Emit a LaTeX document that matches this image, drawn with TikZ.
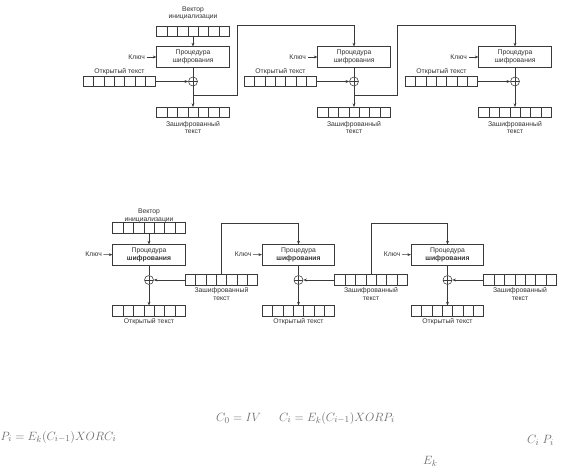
\documentclass[tikz,border=0pt]{standalone}
\usepackage{fontspec}
\newfontfamily\arialf{Liberation Sans}
\usetikzlibrary{calc,arrows.meta}
\definecolor{ln}{HTML}{3A3A3A}
\definecolor{tx}{HTML}{333333}
\definecolor{fm}{HTML}{6E6E6E}
\tikzset{
 every node/.style={font=\arialf\fontsize{6.8}{7.6}\selectfont, text=tx},
 reg/.style={draw=ln, line width=0.55pt, minimum width=72.5pt, minimum height=10.5pt, inner sep=0pt},
 proc/.style={draw=ln, line width=0.6pt, minimum width=72.5pt, minimum height=20.5pt, inner sep=0pt, align=center, font=\arialf\fontsize{6.8}{8}\selectfont},
 xorc/.style={circle, draw=ln, line width=0.55pt, minimum size=9pt, inner sep=0pt,
   path picture={\draw[ln, line width=0.5pt] (path picture bounding box.north)--(path picture bounding box.south) (path picture bounding box.west)--(path picture bounding box.east);}},
 conn/.style={draw=ln, line width=0.55pt},
 arr/.style={conn, -{Stealth[length=3.6pt,width=2.8pt]}},
 lbl/.style={inner sep=0pt, align=center},
 fml/.style={font=\fontsize{12.3}{14}\selectfont, text=fm, inner sep=0pt, anchor=west},
}
\newcommand\cells[1]{\foreach \q in {1,...,6}{\draw[conn] ($(#1.north west)!\q/7!(#1.north east)$) -- ($(#1.south west)!\q/7!(#1.south east)$);}}
\begin{document}
\begin{tikzpicture}[x=1pt,y=-1pt]
\useasboundingbox[fill=white] (0,0) rectangle (571,471);
% ---------- top (encryption) ----------
\node[reg] (tiv) at (193,31.5) {}; \cells{tiv}
\node[lbl] (tivl) at (193,13.5) {Вектор\\инициализации};
\foreach \b/\cx in {1/193,2/354,3/515}{
 \node[proc] (tp\b) at (\cx,57) {Процедура\\шифрования};
 \node[reg] (tpl\b) at (\cx-73.5,81.5) {}; \cells{tpl\b}
 \node[xorc] (tx\b) at (\cx,81.5) {};
 \node[reg] (tc\b) at (\cx,112.5) {}; \cells{tc\b}
 \node[lbl, anchor=east] (tk\b) at (\cx-48,57) {Ключ};
 \draw[arr, shorten <=1.5pt] (tk\b) -- (tp\b);
 \node[lbl] (tplt\b) at (\cx-73.5,72) {Открытый текст};
 \draw[arr] (tpl\b) -- (tx\b);
 \draw[conn] (tp\b) -- (tx\b);
 \draw[arr] (tx\b) -- (tc\b);
 \node[lbl] (tcl\b) at (\cx,127.5) {Зашифрованный\\текст};
}
\draw[arr] (tiv) -- (tp1);
\coordinate (tf1) at (193,95);
\coordinate (tr1) at (237,25);
\draw[arr] (tf1) -| (tr1) -| (tp2);
\coordinate (tf2) at (354,95);
\coordinate (tr2) at (397,25);
\draw[arr] (tf2) -| (tr2) -| (tp3);
% ---------- bottom (decryption) ----------
\node[reg] (biv) at (149,228) {}; \cells{biv}
\node[lbl] (bivl) at (149,216) {Вектор\\инициализации};
\foreach \b/\cx in {1/149,2/298.5,3/447.5}{
 \node[proc] (bp\b) at (\cx,255) {Процедура\\\textbf{шифрования}};
 \node[xorc] (bx\b) at (\cx,280) {};
 \node[reg] (bc\b) at (\cx+72.5,280) {}; \cells{bc\b}
 \node[reg] (bo\b) at (\cx,311) {}; \cells{bo\b}
 \node[lbl, anchor=east] (bk\b) at (\cx-47,254.5) {Ключ};
 \draw[arr, shorten <=1.5pt] (bk\b) -- (bp\b);
 \draw[conn] (bp\b) -- (bx\b);
 \draw[arr] (bx\b) -- (bo\b);
 \draw[arr] (bc\b) -- (bx\b);
 \node[lbl] (bcl\b) at (\cx+72.5,294) {Зашифрованный\\текст};
 \node[lbl] (bol\b) at (\cx,321.5) {Открытый текст};
}
\draw[arr] (biv) -- (bp1);
\coordinate (bu1) at (221.5,223);
\draw[arr] (bc1.north) -- (bu1) -| (bp2);
\coordinate (bu2) at (371,223);
\draw[arr] (bc2.north) -- (bu2) -| (bp3);
% ---------- formulas ----------
\node[fml] (f1) at (216,418) {$C_0 = IV$};
\node[fml] (f2) at (279,418) {$C_i = E_k(C_{i-1})XORP_i$};
\node[fml] (f3) at (0.5,437) {$P_i = E_k(C_{i-1})XORC_i$};
\node[fml] (f4) at (527,440) {$C_i\;P_i$};
\node[fml] (f5) at (423,461) {$E_k$};
\end{tikzpicture}
\end{document}
